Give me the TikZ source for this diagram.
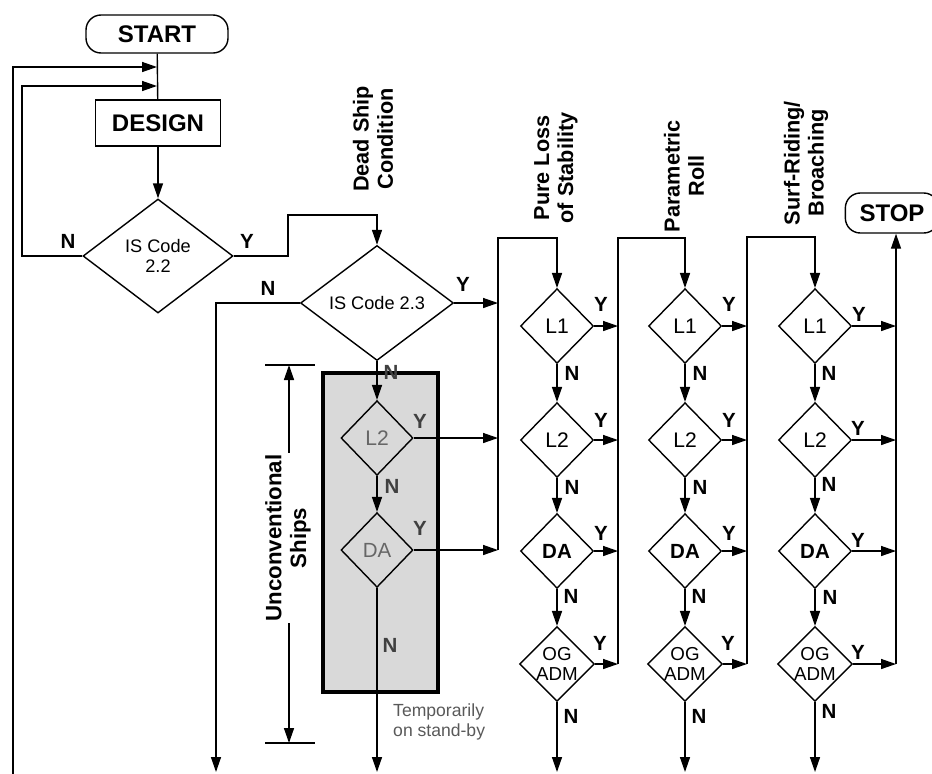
\documentclass[tikz,border=0pt]{standalone}
\usepackage{fontspec}
\setmainfont{Liberation Sans}
\usetikzlibrary{arrows.meta,shapes.geometric}
\tikzset{
  ln/.style={line width=1.2pt},
  arr/.style={ln,-{Triangle[length=0.45cm,width=0.3cm]}},
  term/.style={draw,ln,rounded corners=0.45cm,inner sep=0pt,font=\fontsize{20.5}{22}\selectfont\bfseries},
  boxn/.style={draw,ln,inner sep=0pt,font=\fontsize{20.5}{22}\selectfont\bfseries},
  bigdia/.style={draw,ln,diamond,inner sep=0pt,align=center,font=\fontsize{15.5}{17}\selectfont},
  dia/.style={draw,ln,diamond,inner sep=0pt,minimum width=2.19cm,minimum height=2.24cm,align=center,font=\fontsize{18}{20}\selectfont},
  diab/.style={dia,font=\fontsize{17.5}{20}\selectfont\bfseries},
  diaog/.style={dia,font=\fontsize{16}{17}\selectfont},
  yn/.style={inner sep=0pt,font=\fontsize{17.5}{19}\selectfont\bfseries},
  hdr/.style={rotate=90,align=center,inner sep=0pt,font=\fontsize{18.5}{20.5}\selectfont\bfseries},
}
\begin{document}
\begin{tikzpicture}[x=0.03cm,y=-0.03cm]
\useasboundingbox (0,0) rectangle (932,773);

% grey box of unconventional ships
\node[draw,line width=3pt,fill=black!15,minimum width=3.45cm,minimum height=9.57cm,inner sep=0pt] (ubox) at (380.5,532.5) {};

% terminals and process
\node[term,minimum width=4.26cm,minimum height=1.14cm] (start) at (157,34) {START};
\node[boxn,minimum width=3.75cm,minimum height=1.38cm] (design) at (158,123) {DESIGN};
\node[term,minimum width=2.8cm,minimum height=1.2cm] (stop) at (892,213) {STOP};

% main decisions
\node[bigdia,minimum width=4.5cm,minimum height=3.42cm] (is22) at (158,256) {IS Code\\2.2};
\node[bigdia,minimum width=4.59cm,minimum height=3.45cm] (is23) at (377,303) {IS Code 2.3};

% unconventional decisions
\node[dia,text=black!60,minimum width=2.16cm] (ul2) at (377,438) {L2};
\node[dia,text=black!60,minimum width=2.16cm,font=\fontsize{17.5}{20}\selectfont] (uda) at (377,550) {DA};

% column decisions
\foreach \c/\x in {1/557,2/685,3/815}{
  \node[dia] (c\c l1) at (\x,326) {L1};
  \node[dia] (c\c l2) at (\x,440) {L2};
  \node[diab] (c\c da) at (\x,551) {DA};
  \node[diaog] (c\c og) at (\x,664) {OG\\ADM};
}

% headers
\node[hdr] (hdead) at (373,139) {Dead Ship\\Condition};
\node[hdr] (hpure) at (556,168) {Pure Loss\\of Stability};
\node[hdr] (hpar) at (684,176) {Parametric\\Roll};
\node[hdr] (hsurf) at (806,163) {Surf-Riding/\\Broaching};

% coordinates
\coordinate (j1) at (157,67);
\coordinate (j2) at (157,86);
\coordinate (ob) at (13,775);
\coordinate (lp2) at (22,86);
\coordinate (b1) at (288,215);
\coordinate (e1) at (216,772);
\coordinate (e2) at (377,772);
\coordinate (v1top) at (498,238);
\coordinate (v1bot) at (498,550);
\coordinate (r1top) at (618,238);
\coordinate (r1bot) at (618,664);
\coordinate (r2top) at (747,237);
\coordinate (r2bot) at (747,664);
\coordinate (r3bot) at (896,664);

% top part
\draw[ln] (start) -- (design);
\draw[arr] (ob) |- (j1);
\draw[arr] (is22.west) -| (lp2) -- (j2);
\draw[arr] (design) -- (is22);
\draw[arr] (is22.east) -| (b1) -| (is23.north);
\draw[arr] (is23.west) -| (e1);
\draw[arr] (is23.east) -- (is23.east -| v1top);
\draw[arr] (v1bot) -- (v1top) -| (c1l1.north);

% unconventional
\draw[arr] (is23.south) -- (ul2.north);
\draw[arr] (ul2.south) -- (uda.north);
\draw[arr] (uda.south) -- (e2);
\draw[arr] (ul2.east) -- (ul2.east -| v1top);
\draw[arr] (uda.east) -- (uda.east -| v1top);

% columns
\foreach \c/\r in {1/r1bot,2/r2bot,3/r3bot}{
  \draw[arr] (c\c l1.south) -- (c\c l2.north);
  \draw[arr] (c\c l2.south) -- (c\c da.north);
  \draw[arr] (c\c da.south) -- (c\c og.north);
  \draw[arr] (c\c og.south) -- (c\c og.south |- e2);
  \draw[arr] (c\c l1.east) -- (c\c l1.east -| \r);
  \draw[arr] (c\c l2.east) -- (c\c l2.east -| \r);
  \draw[arr] (c\c da.east) -- (c\c da.east -| \r);
  \draw[arr] (c\c og.east) -- (\r);
}
\draw[arr] (r1bot) -- (r1top) -| (c2l1.north);
\draw[arr] (r2bot) -- (r2top) -| (c3l1.north);
\draw[arr] (r3bot) -- (r3bot |- stop.south);

% dimension
\coordinate (dt) at (289,365);
\coordinate (db) at (289,743);
\draw[ln] (265,365) -- (315,365);
\draw[ln] (265,743) -- (315,743);
\draw[ln,{Triangle[length=0.45cm,width=0.3cm]}-{Triangle[length=0.45cm,width=0.3cm]}] (dt) -- (db);
\node[rotate=90,align=center,fill=white,inner sep=1pt,font=\fontsize{19}{21}\selectfont\bfseries] (uship) at (288,538) {Unconventional\\Ships};

\node[anchor=west,align=left,inner sep=0pt,text=black!65,font=\fontsize{15}{17.5}\selectfont] (temp) at (393,722) {Temporarily\\on stand-by};

% Y / N labels
\node[yn] (n22) at (68,241) {N};
\node[yn] (y22) at (247,241) {Y};
\node[yn] (n23) at (268,288) {N};
\node[yn] (y23) at (463,284) {Y};
\node[yn,text=black!75] (nu0) at (391,372) {N};
\node[yn,text=black!75] (yu1) at (420,421) {Y};
\node[yn,text=black!75] (nu1) at (392,486) {N};
\node[yn,text=black!75] (yu2) at (420,528) {Y};
\node[yn,text=black!75] (nu2) at (390,645) {N};

\foreach \c/\x in {1/557,2/685}{
  \node[yn] (yc\c a) at ({\x+44},304) {Y};
  \node[yn] (nc\c a) at ({\x+15},373) {N};
  \node[yn] (yc\c b) at ({\x+44},420) {Y};
  \node[yn] (nc\c b) at ({\x+15},487) {N};
  \node[yn] (yc\c c) at ({\x+44},533) {Y};
  \node[yn] (nc\c c) at ({\x+14},596) {N};
  \node[yn] (yc\c d) at ({\x+43},643) {Y};
  \node[yn] (nc\c d) at ({\x+14},716) {N};
}
\node[yn] (yc3a) at (859,314) {Y};
\node[yn] (nc3a) at (829,373) {N};
\node[yn] (yc3b) at (858,428) {Y};
\node[yn] (nc3b) at (829,484) {N};
\node[yn] (yc3c) at (858,540) {Y};
\node[yn] (nc3c) at (830,597) {N};
\node[yn] (yc3d) at (858,652) {Y};
\node[yn] (nc3d) at (829,711) {N};
\end{tikzpicture}
\end{document}
